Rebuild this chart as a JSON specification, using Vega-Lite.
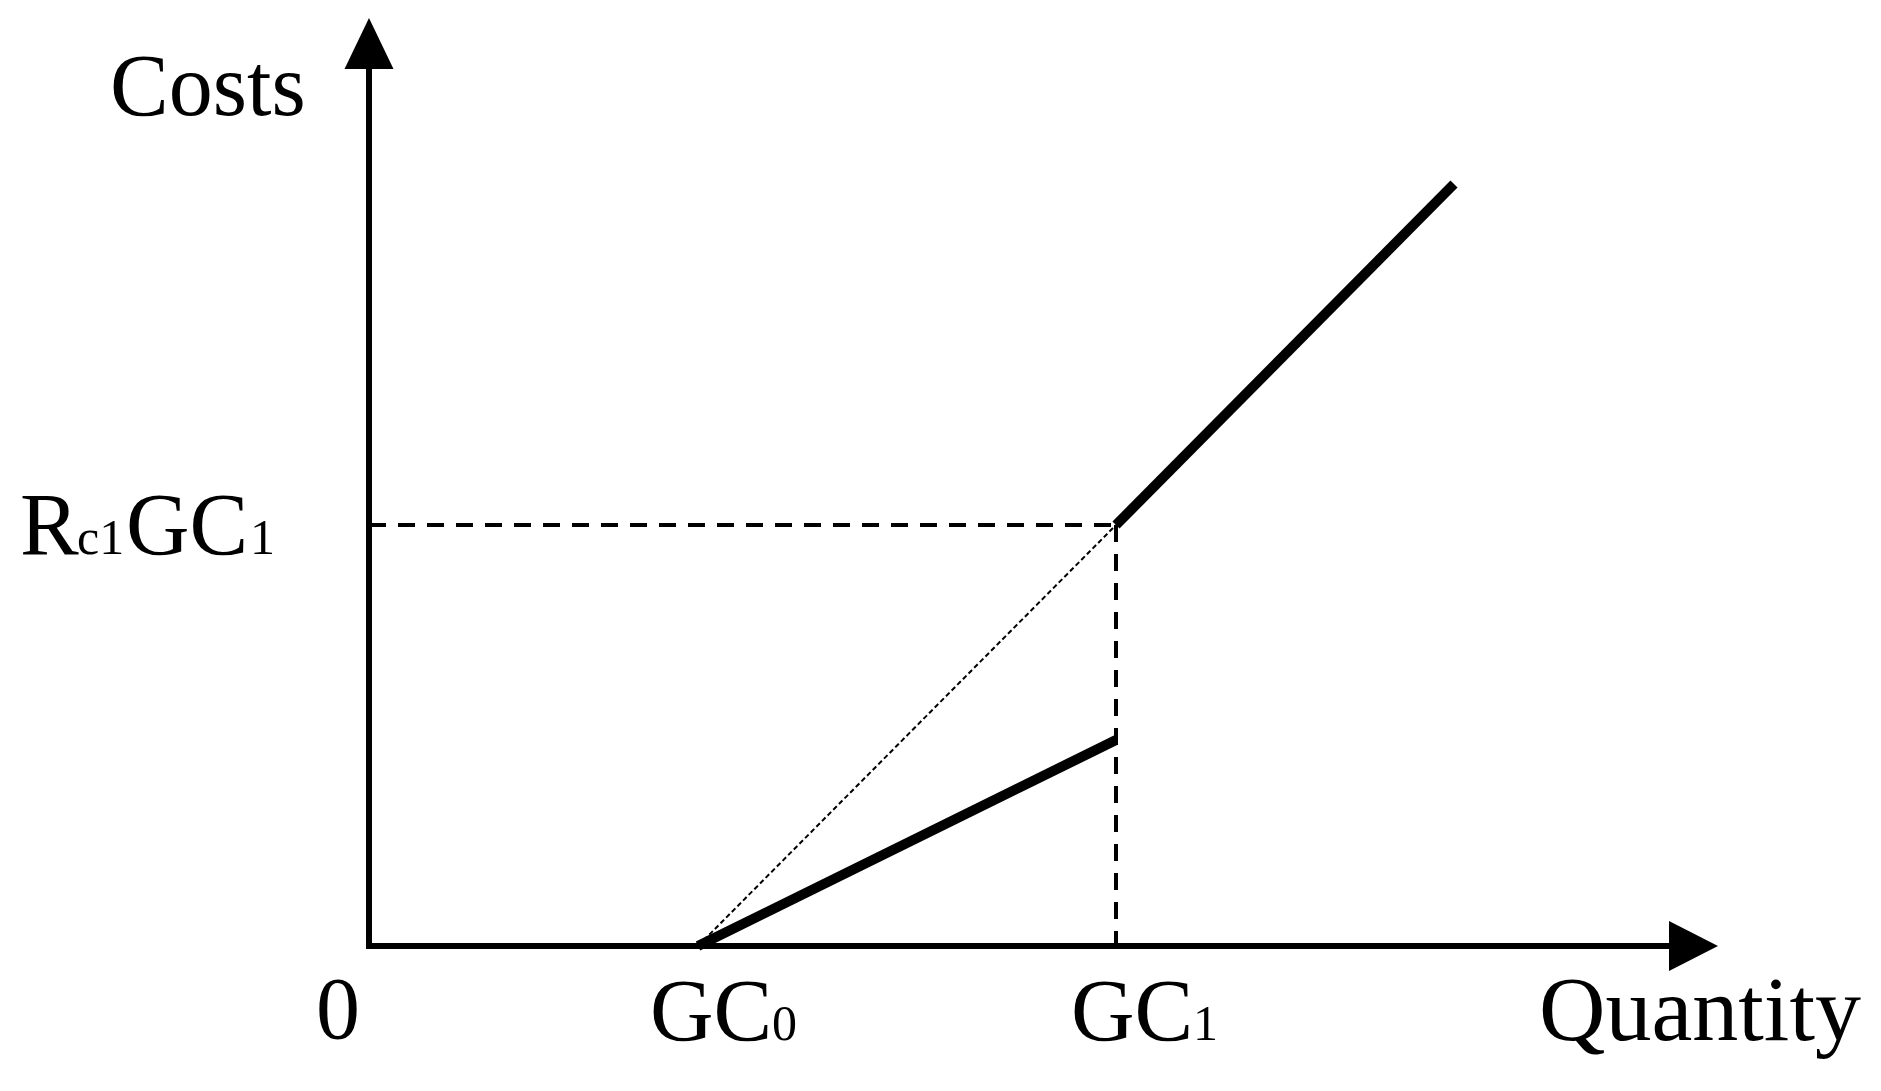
{
  "$schema": "https://vega.github.io/schema/vega-lite/v6.json",
  "width": 1881,
  "height": 1091,
  "autosize": {"type": "none"},
  "padding": 0,
  "background": "white",
  "config": {"view": {"stroke": null}},
  "datasets": {
    "segments": [
      {"kind": "axis", "x": 0, "y": 0, "x2": 0, "y2": 8.8},
      {"kind": "axis", "x": 0, "y": 0, "x2": 13.02, "y2": 0},
      {"kind": "dashed", "x": 0, "y": 4.21, "x2": 7.47, "y2": 4.21},
      {"kind": "dashed", "x": 7.47, "y": 4.21, "x2": 7.47, "y2": 0},
      {"kind": "dotted", "x": 3.29, "y": 0, "x2": 7.47, "y2": 4.21},
      {"kind": "thick", "x": 3.29, "y": 0, "x2": 7.47, "y2": 2.06},
      {"kind": "thick", "x": 7.47, "y": 4.21, "x2": 10.85, "y2": 7.62}
    ],
    "xarrow": [
      {"x": 13.0, "y": 0.25, "y2": -0.25},
      {"x": 13.49, "y": 0, "y2": 0}
    ],
    "yarrow": [
      {"y": 8.77, "x": -0.245, "x2": 0.245},
      {"y": 9.28, "x": 0, "x2": 0}
    ],
    "labels": [
      {"text": "Costs", "x": -2.59, "y": 8.31},
      {"text": "R", "x": -3.49, "y": 3.92},
      {"text": "GC", "x": -2.43, "y": 3.92},
      {"text": "0", "x": -0.53, "y": -0.92},
      {"text": "GC", "x": 2.81, "y": -0.94},
      {"text": "GC", "x": 7.02, "y": -0.94}
    ],
    "axislabel": [
      {"text": "Quantity", "x": 11.7, "y": -0.94}
    ],
    "subs": [
      {"text": "c1", "x": -2.92, "y": 3.92},
      {"text": "1", "x": -1.19, "y": 3.92},
      {"text": "0", "x": 4.03, "y": -0.94},
      {"text": "1", "x": 8.24, "y": -0.94}
    ]
  },
  "layer": [
    {
      "data": {"name": "segments"},
      "transform": [{"filter": "datum.kind == 'axis'"}],
      "mark": {"type": "rule", "color": "#000", "strokeWidth": 6, "strokeCap": "square"},
      "encoding": {
        "x": {"field": "x", "type": "quantitative", "scale": {"domain": [-3.69, 15.12], "nice": false, "zero": false}, "axis": null},
        "y": {"field": "y", "type": "quantitative", "scale": {"domain": [-1.45, 9.46], "nice": false, "zero": false}, "axis": null},
        "x2": {"field": "x2"},
        "y2": {"field": "y2"}
      }
    },
    {
      "data": {"name": "segments"},
      "transform": [{"filter": "datum.kind == 'dashed'"}],
      "mark": {"type": "rule", "color": "#000", "strokeWidth": 4, "strokeDash": [17, 12]},
      "encoding": {
        "x": {"field": "x", "type": "quantitative", "scale": {"domain": [-3.69, 15.12], "nice": false, "zero": false}, "axis": null},
        "y": {"field": "y", "type": "quantitative", "scale": {"domain": [-1.45, 9.46], "nice": false, "zero": false}, "axis": null},
        "x2": {"field": "x2"},
        "y2": {"field": "y2"}
      }
    },
    {
      "data": {"name": "segments"},
      "transform": [{"filter": "datum.kind == 'dotted'"}],
      "mark": {"type": "rule", "color": "#000", "strokeWidth": 2, "strokeDash": [5, 3]},
      "encoding": {
        "x": {"field": "x", "type": "quantitative", "scale": {"domain": [-3.69, 15.12], "nice": false, "zero": false}, "axis": null},
        "y": {"field": "y", "type": "quantitative", "scale": {"domain": [-1.45, 9.46], "nice": false, "zero": false}, "axis": null},
        "x2": {"field": "x2"},
        "y2": {"field": "y2"}
      }
    },
    {
      "data": {"name": "segments"},
      "transform": [{"filter": "datum.kind == 'thick'"}],
      "mark": {"type": "rule", "color": "#000", "strokeWidth": 10, "strokeCap": "butt"},
      "encoding": {
        "x": {"field": "x", "type": "quantitative", "scale": {"domain": [-3.69, 15.12], "nice": false, "zero": false}, "axis": null},
        "y": {"field": "y", "type": "quantitative", "scale": {"domain": [-1.45, 9.46], "nice": false, "zero": false}, "axis": null},
        "x2": {"field": "x2"},
        "y2": {"field": "y2"}
      }
    },
    {
      "data": {"name": "xarrow"},
      "mark": {"type": "area", "color": "#000", "orient": "vertical"},
      "encoding": {
        "x": {"field": "x", "type": "quantitative", "scale": {"domain": [-3.69, 15.12], "nice": false, "zero": false}, "axis": null},
        "y": {"field": "y", "type": "quantitative", "scale": {"domain": [-1.45, 9.46], "nice": false, "zero": false}, "axis": null},
        "y2": {"field": "y2"}
      }
    },
    {
      "data": {"name": "yarrow"},
      "mark": {"type": "area", "color": "#000", "orient": "horizontal"},
      "encoding": {
        "y": {"field": "y", "type": "quantitative", "scale": {"domain": [-1.45, 9.46], "nice": false, "zero": false}, "axis": null},
        "x": {"field": "x", "type": "quantitative", "scale": {"domain": [-3.69, 15.12], "nice": false, "zero": false}, "axis": null},
        "x2": {"field": "x2"}
      }
    },
    {
      "data": {"name": "labels"},
      "mark": {"type": "text", "font": "Liberation Serif", "fontSize": 88, "align": "left", "baseline": "alphabetic", "color": "#000"},
      "encoding": {
        "x": {"field": "x", "type": "quantitative", "scale": {"domain": [-3.69, 15.12], "nice": false, "zero": false}, "axis": null},
        "y": {"field": "y", "type": "quantitative", "scale": {"domain": [-1.45, 9.46], "nice": false, "zero": false}, "axis": null},
        "text": {"field": "text"}
      }
    },
    {
      "data": {"name": "axislabel"},
      "mark": {"type": "text", "font": "Liberation Serif", "fontSize": 92, "align": "left", "baseline": "alphabetic", "color": "#000"},
      "encoding": {
        "x": {"field": "x", "type": "quantitative", "scale": {"domain": [-3.69, 15.12], "nice": false, "zero": false}, "axis": null},
        "y": {"field": "y", "type": "quantitative", "scale": {"domain": [-1.45, 9.46], "nice": false, "zero": false}, "axis": null},
        "text": {"field": "text"}
      }
    },
    {
      "data": {"name": "subs"},
      "mark": {"type": "text", "font": "Liberation Serif", "fontSize": 50, "align": "left", "baseline": "alphabetic", "color": "#000"},
      "encoding": {
        "x": {"field": "x", "type": "quantitative", "scale": {"domain": [-3.69, 15.12], "nice": false, "zero": false}, "axis": null},
        "y": {"field": "y", "type": "quantitative", "scale": {"domain": [-1.45, 9.46], "nice": false, "zero": false}, "axis": null},
        "text": {"field": "text"}
      }
    }
  ]
}
